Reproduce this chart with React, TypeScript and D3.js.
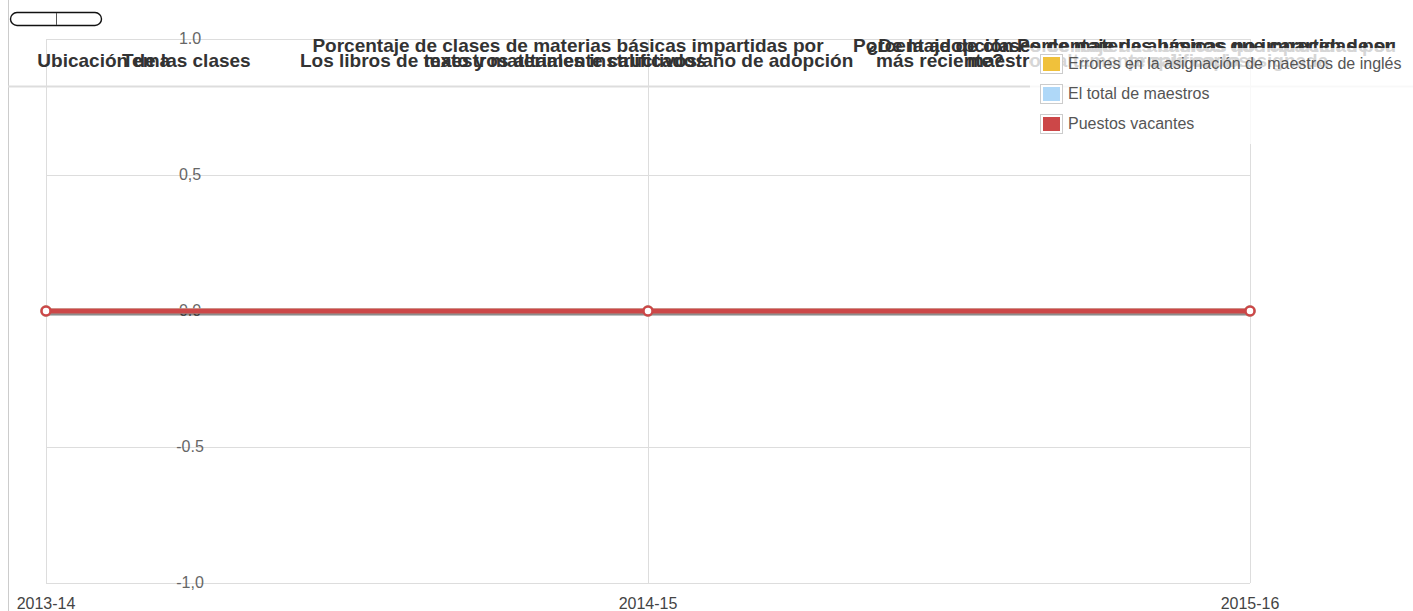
import * as d3 from 'd3';

const years = ['2013-14', '2014-15', '2015-16'];
const seriesNames = ['Errores en la asignación de maestros de inglés', 'El total de maestros', 'Puestos vacantes'];
const seriesColors = ['#f0c13b', '#afd8f8', '#cc4748'];
const erroresValues = [0, 0, 0];
const totalValues = [0, 0, 0];
const vacantesValues = [0, 0, 0];
const yTicks = [-1, -0.5, 0, 0.5, 1];
const yTickLabels = ['-1,0', '-0.5', '0.0', '0,5', '1.0'];

// header texts of two tables that sit on top of each other in the source page
const headerTexts = [
  { text: 'Ubicación de las clases', x: 144, row: 1, anchor: 'middle' },
  { text: 'Tema', x: 146, row: 1, anchor: 'middle' },
  { text: 'Porcentaje de clases de materias básicas impartidas por', x: 568, row: 0, anchor: 'middle' },
  { text: 'maestros altamente calificados', x: 565, row: 1, anchor: 'middle' },
  { text: 'Los libros de texto y materiales instructivos/año de adopción', x: 300, row: 1, anchor: 'start' },
  { text: 'Porcentaje de clases de materias básicas no impartidas por', x: 853, row: 0, anchor: 'start' },
  { text: '¿De la adopción', x: 940, row: 0, anchor: 'middle' },
  { text: 'más reciente?', x: 876, row: 1, anchor: 'start' },
  { text: 'maestros altamente calificados', x: 1108, row: 1, anchor: 'middle' },
  { text: 'Porcentaje de alumnos que carecen de su', x: 1396, row: 0, anchor: 'end' },
  { text: 'propia copia asignada', x: 1228, row: 1, anchor: 'middle' },
];

const W = 1413;
const H = 611;
const font = '"Liberation Sans", Arial, sans-serif';

export default function App() {
  const x = d3.scalePoint<string>().domain(years).range([46, 1250]);
  const y = d3.scaleLinear().domain([-1, 1]).range([583, 39]);
  const series = [erroresValues, totalValues, vacantesValues];
  const line = d3.line<number>()
    .x((_, i) => x(years[i])!)
    .y(d => y(d));

  return (
    <svg width={W} height={H} style={{ position: 'absolute', left: 0, top: 0, fontFamily: font }}>
      <rect width={W} height={H} fill="#fff" />
      {/* page borders */}
      <line x1={8.5} x2={8.5} y1={0} y2={H} stroke="#ccc" />
      <line x1={8} x2={W} y1={86.5} y2={86.5} stroke="#ddd" strokeWidth={2} />

      {/* buttons */}
      <g>
        <rect x={10.5} y={12.5} width={91} height={13} rx={6.5} fill="#fff" stroke="#111" strokeWidth={1.4} />
        <line x1={56.5} x2={56.5} y1={13} y2={25} stroke="#555" />
      </g>

      {/* grid */}
      {yTicks.map(t => (
        <line key={t} x1={46} x2={1250} y1={Math.round(y(t)) + 0.5} y2={Math.round(y(t)) + 0.5} stroke="#ddd" />
      ))}
      {years.map(c => (
        <line key={c} x1={x(c)! + 0.5} x2={x(c)! + 0.5} y1={39} y2={583} stroke="#ddd" />
      ))}

      {/* header texts */}
      {headerTexts.map((h, i) => (
        <text key={i} x={h.x} y={h.row === 0 ? 52 : 67} textAnchor={h.anchor} fontSize={19} fontWeight="bold" fill="#333">
          {h.text}
        </text>
      ))}

      {/* y tick labels */}
      {yTicks.map((t, i) => (
        <text key={t} x={190} y={y(t)} dy="0.32em" textAnchor="middle" fontSize={16} fill="#666">
          {yTickLabels[i]}
        </text>
      ))}

      {/* x labels */}
      {years.map(c => (
        <text key={c} x={x(c)!} y={609} textAnchor="middle" fontSize={16} fill="#444">
          {c}
        </text>
      ))}

      {/* series */}
      {series.map((vals, si) => (
        <g key={si}>
          <path d={line(vals)!} fill="none" stroke="#000" strokeOpacity={0.18} strokeWidth={5} transform="translate(1,2)" />
          <path d={line(vals)!} fill="none" stroke={seriesColors[si]} strokeWidth={5} />
          {vals.map((v, i) => (
            <circle key={i} cx={x(years[i])!} cy={y(v)} r={4.5} fill="#fff" stroke={seriesColors[si]} strokeWidth={2.5} />
          ))}
        </g>
      ))}

      {/* legend */}
      <g>
        <rect x={1030} y={48} width={390} height={96} fill="#fff" fillOpacity={0.8} />
        {seriesNames.map((n, i) => (
          <g key={n} transform={`translate(1040,${54 + i * 30})`}>
            <rect x={0.5} y={0.5} width={22} height={19} fill="#fff" stroke="#ccc" />
            <rect x={3} y={3} width={17} height={14} fill={seriesColors[i]} />
            <text x={28} y={15} fontSize={16} fill="#555">{n}</text>
          </g>
        ))}
      </g>
    </svg>
  );
}
